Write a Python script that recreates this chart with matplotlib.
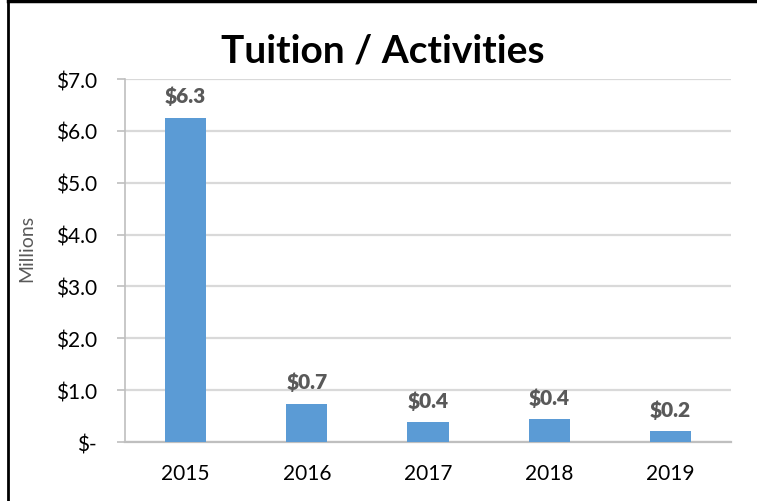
import matplotlib
matplotlib.use("Agg")
import matplotlib.pyplot as plt
from matplotlib.lines import Line2D

years = ["2015", "2016", "2017", "2018", "2019"]
amounts = [6.25, 0.74, 0.385, 0.435, 0.21]
labels = ["$6.3", "$0.7", "$0.4", "$0.4", "$0.2"]
yticks = [0, 1, 2, 3, 4, 5, 6, 7]
ytick_labels = ["$-", "$1.0", "$2.0", "$3.0", "$4.0", "$5.0", "$6.0", "$7.0"]

plt.rcParams["font.family"] = ["Lato", "DejaVu Sans"]

fig = plt.figure(figsize=(7.57, 5.02), dpi=100)
ax = fig.add_axes([0.165, 0.1175, 0.801, 0.7231])

x = list(range(len(years)))
ax.bar(x, amounts, width=0.34, color="#5B9BD5", zorder=3)
for xi, val, lab in zip(x, amounts, labels):
    ax.annotate(lab, (xi, val), xytext=(0, 9), textcoords="offset points",
                ha="center", va="bottom", fontsize=15, fontweight="heavy", color="#595959")

ax.set_xlim(-0.5, len(years) - 0.5)
ax.set_ylim(0, 7)
ax.set_yticks(yticks)
ax.set_yticklabels(ytick_labels, fontsize=15)
ax.set_xticks(x)
ax.set_xticklabels(years, fontsize=15)
ax.tick_params(axis="x", length=0, pad=15)
ax.tick_params(axis="y", length=6, color="#BFBFBF", width=1.2, pad=14)
ax.yaxis.grid(True, color="#D9D9D9", linewidth=1.6, zorder=0)
for side in ["top", "right"]:
    ax.spines[side].set_visible(False)
ax.spines["left"].set_color("#BFBFBF")
ax.spines["bottom"].set_color("#BFBFBF")
ax.spines["left"].set_linewidth(1.2)
ax.spines["bottom"].set_linewidth(1.6)
ax.set_ylabel("Millions", fontsize=14, color="#595959")
ax.yaxis.set_label_coords(-0.148, 0.537)

fig.text(0.505, 0.898, "Tuition / Activities", ha="center", va="center",
         fontsize=28, fontweight="bold")

# figure border (left and top edges visible)
fig.add_artist(Line2D([0.0105, 0.0105], [0, 0.996], color="black", linewidth=2,
                      transform=fig.transFigure))
fig.add_artist(Line2D([0.0105, 1.0], [0.996, 0.996], color="black", linewidth=2.5,
                      transform=fig.transFigure))

fig.savefig("out.png", dpi=100)
